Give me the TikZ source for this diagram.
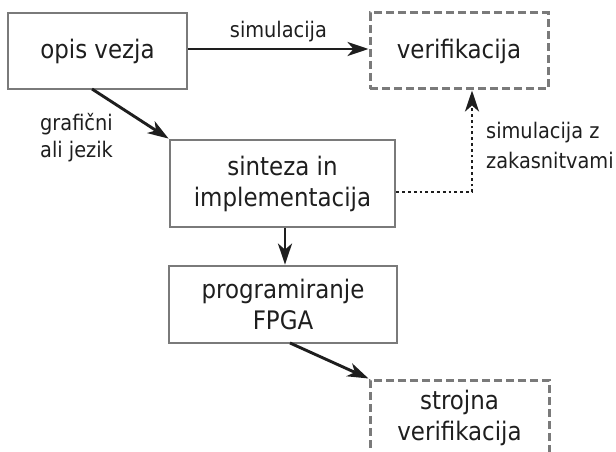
\documentclass[tikz,border=0pt]{standalone}
\usepackage{fontspec}
\setmainfont{DejaVu Sans Condensed}
\usetikzlibrary{arrows.meta}
\definecolor{boxgray}{HTML}{7A7A7A}
\definecolor{ink}{HTML}{1E1E1E}
\begin{document}
\begin{tikzpicture}[x=1pt,y=-1pt,
  every node/.style={text=ink, font=\fontsize{25.5}{31}\selectfont},
  solidbox/.style={draw=boxgray, line width=2.8pt, rectangle, inner sep=0pt, align=center},
  dashbox/.style={draw=boxgray, line width=3pt, dash pattern=on 8pt off 4pt, rectangle, inner sep=0pt, align=center},
  tip/.style={-{Stealth[length=21pt,width=14pt,inset=6pt]}},
  conn/.style={draw=ink, line width=2.9pt, tip},
  dotconn/.style={draw=ink, line width=2.8pt, dash pattern=on 2.8pt off 3pt, tip},
  lbl/.style={font=\fontsize{21.5}{30}\selectfont, align=left}
]
\clip (0,0) rectangle (616,452);
\node[solidbox, minimum width=179pt, minimum height=76pt] (opis) at (97.5,51) {opis vezja};
\node[dashbox, minimum width=178pt, minimum height=76pt] (ver) at (459,51) {verifikacija};
\node[solidbox, minimum width=225pt, minimum height=87pt] (sint) at (282.5,183.5) {sinteza in\\implementacija};
\node[solidbox, minimum width=228pt, minimum height=77pt] (prog) at (283,304.5) {programiranje\\FPGA};
\node[dashbox, minimum width=179pt, minimum height=110pt] (stroj) at (459.5,435) {};
\node[align=center] (strojtxt) at (459.5,418) {strojna\\verifikacija};

\draw[conn] (opis.east |- 0,49) -- node[above=2pt, lbl] {simulacija} (ver.west |- 0,49);
\coordinate (a1) at (92,89);
\draw[conn] (a1) -- (sint.north west);
\node[lbl, font=\fontsize{21.5}{27}\selectfont, anchor=base west, inner sep=0pt] (graf) at (40,157) {grafični\\ali jezik};
\coordinate (d1) at (472,192);
\draw[dotconn] (sint.east |- d1) -- (d1) -- (d1 |- ver.south);
\node[lbl, anchor=base west, inner sep=0pt] (simz) at (486,168) {simulacija z\\zakasnitvami};
\draw[conn] (sint.south -| 285,0) -- (prog.north -| 285,0);
\coordinate (a2) at (290,343);
\draw[conn] (a2) -- (stroj.north west);
\end{tikzpicture}
\end{document}
